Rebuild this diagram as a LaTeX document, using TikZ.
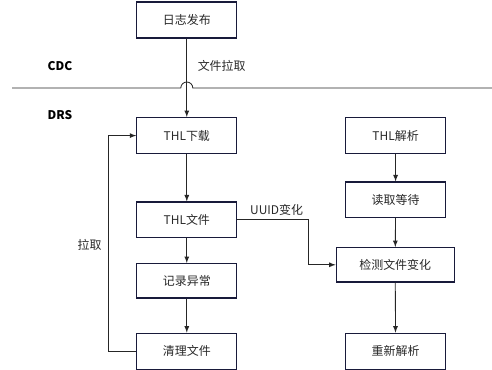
\documentclass[tikz,border=0pt]{standalone}
\usepackage{fontspec}
\setmainfont{Noto Sans CJK SC}
\usepackage{tikz}
\definecolor{boxline}{RGB}{24,26,58}
\definecolor{txt}{RGB}{40,40,40}

\begin{document}
\begin{tikzpicture}[
    font=\fontsize{8.5pt}{10pt}\selectfont,
    box/.style={rectangle, draw=boxline, thick, text=txt, minimum width=2.5cm, minimum height=0.9cm, inner sep=0pt},
    arrow/.style={-latex, semithick, draw=black!85},
    plain/.style={semithick, draw=black!85},
    side/.style={font=\fontsize{8.5pt}{10pt}\selectfont\bfseries, text=black}
]
    \useasboundingbox (0,0) rectangle (12.30,9.25);
    % left column
    \node[box] (pub) at (4.67, 8.75) {日志发布};
    \node[box] (download) at (4.67, 5.86) {THL下载};
    \node[box, minimum height=0.88cm] (file) at (4.67, 3.76) {THL文件};
    \node[box, minimum height=0.86cm] (err) at (4.67, 2.23) {记录异常};
    \node[box] (clean) at (4.67, 0.47) {清理文件};
    % right column
    \node[box] (parse) at (9.89, 5.86) {THL解析};
    \node[box, minimum height=0.88cm] (wait) at (9.89, 4.26) {读取等待};
    \node[box, minimum width=2.95cm, minimum height=0.86cm] (detect) at (9.88, 2.63) {检测文件变化};
    \node[box] (reparse) at (9.89, 0.47) {重新解析};
    % zones
    \node[side] (cdc) at (1.50, 7.60) {CDC};
    \node[side] (drs) at (1.50, 6.38) {DRS};
    \draw[plain] (0.30, 7.05) -- (4.52, 7.05) arc (180:0:0.15) -- (12.30, 7.05);
    % labels
    \node[anchor=west, text=txt] (fetch) at (4.82, 7.60) {文件拉取};
    \node[text=txt] (pull) at (2.24, 3.13) {拉取};
    \node[anchor=west, text=txt] (uuid) at (6.13, 4.00) {UUID变化};
    \coordinate (uuidbend) at (7.70, 3.76);
    % connectors
    \draw[arrow] (pub) -- (download);
    \draw[arrow] (download) -- (file);
    \draw[arrow] (file) -- (err);
    \draw[arrow] (err) -- (clean);
    \draw[arrow] (clean.west) -- ++(-0.69, 0) |- (download.west);
    \draw[arrow] (parse) -- (wait);
    \draw[arrow] (wait) -- (detect);
    \draw[arrow] (detect) -- (reparse);
    \draw[arrow] (file.east) -- (uuidbend) |- (detect.west);
\end{tikzpicture}
\end{document}
